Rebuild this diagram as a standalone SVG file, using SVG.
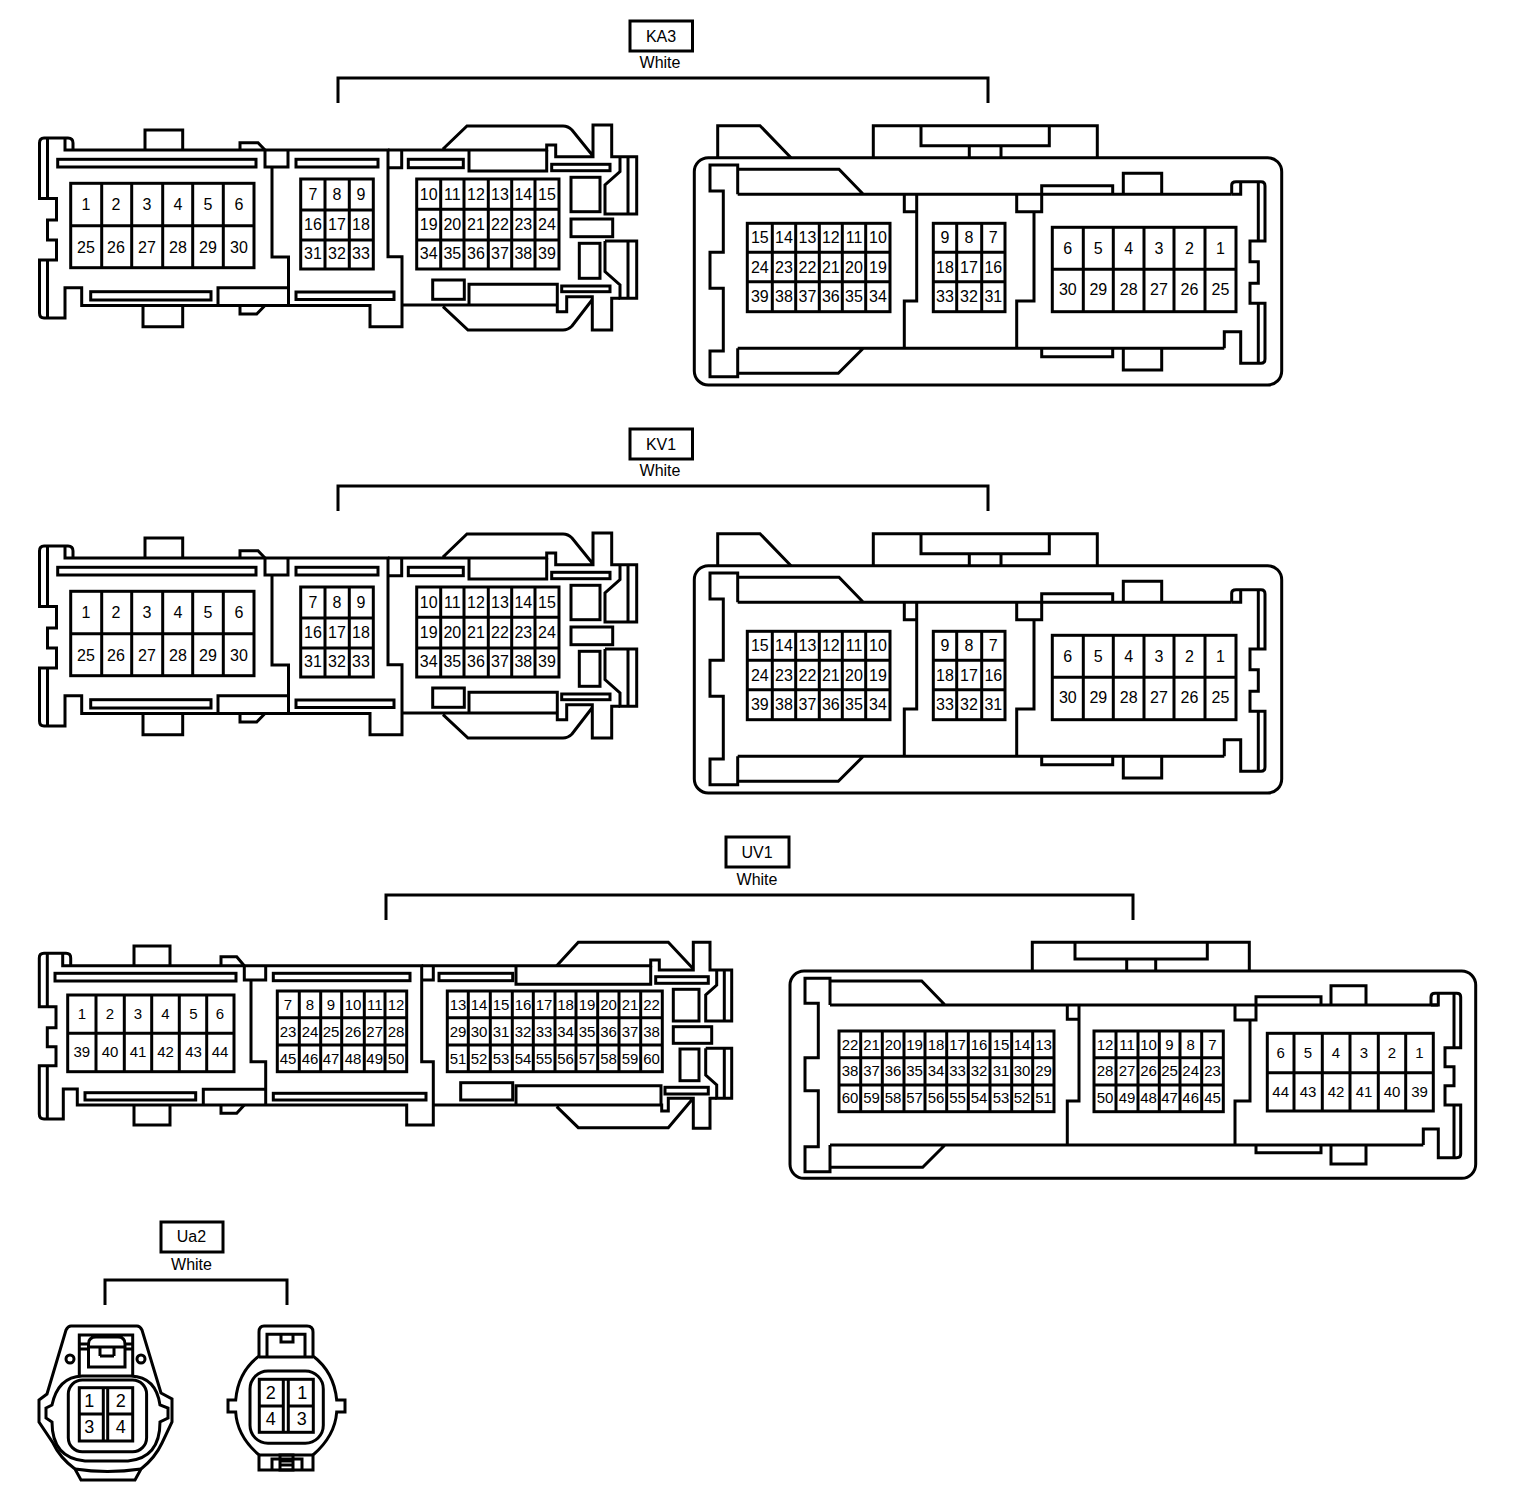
<svg xmlns="http://www.w3.org/2000/svg" width="1520" height="1502" viewBox="0 0 1520 1502">
<style>
.l{fill:none;stroke:#000;stroke-width:3;stroke-linejoin:miter}
text{font-family:"Liberation Sans",Arial,sans-serif;font-size:16px;fill:#000;text-anchor:middle}
.s text{font-size:15px}
.p text{font-size:18px}
</style>
<defs>
<g id="ka-left-shape" class="l">
<path d="M73 150V143Q73 138 68 138H44Q39.500 138 39.500 143V198.500H56.500V220H47.500V240H56.500V260H39.500V313Q39.500 318 44 318H65V287.700H81.700V305.500H370V326.700H402V256.700H388V150H65V138M47.500 138V198.500M47.500 260V318"/>
<path d="M145 150V130H182.700V150M240 150V142.700H258L265 150M143 305.500V326.700H182.700V305.500M240 305.500V314H256.700L265 305.500"/>
<path d="M265 150V167H288V150M272 167V257H288.500V305.500M218 305.500V287.700H288.500"/>
<rect x="57.700" y="159.300" width="198.300" height="7.700"/><rect x="90.700" y="291.700" width="120.300" height="8.300"/>
<rect x="296" y="159.300" width="82" height="7.700"/><rect x="296" y="292" width="98" height="7.500"/>
<rect x="70.700" y="183.300" width="183.300" height="84.400"/><path d="M70.700 225.700H254M101.700 183.300V267.700M131.700 183.300V267.700M162.700 183.300V267.700M192.700 183.300V267.700M223.300 183.300V267.700"/>
<rect x="300.700" y="179" width="72.600" height="90"/><path d="M300.700 210H373.300M300.700 240H373.300M325 179V269M349.300 179V269"/>
<rect x="416.700" y="179" width="142.300" height="90"/><path d="M416.700 209.300H559M416.700 240H559M440.700 179V269M464 179V269M488.300 179V269M511.700 179V269M535 179V269"/>
<path d="M388 150H546.700V145H555.700V156.700H593V125H611.700V156.700H636.700V214H605V185L620 171.700V156.700M628 156.700V214M401.700 150V167.700H388M443 149L467 126H563Q568 126 572 130L593 156M605 241H636.700V298.300H620V285L605 271.700V241M628 241V298.300"/>
<rect x="408.300" y="159.300" width="55" height="8.400"/><path d="M469 150V171H546.700V150"/><rect x="551.700" y="164.300" width="58.300" height="6.400"/>
<rect x="571" y="177.300" width="29" height="34.400"/><rect x="571" y="219" width="41.700" height="17.700"/><rect x="579.300" y="243.300" width="20.700" height="35"/>
<rect x="432.700" y="280" width="31.600" height="19.300"/><path d="M469 305V284.300H557.300V311.700H566.700V296.700H592.300V330H611.700V298.300H620"/><rect x="561.700" y="286" width="48.300" height="5.700"/>
<path d="M402 305H557.300M443 306.700L468 330H563Q568 330 572 326L592 300"/>
</g>
<g id="ka-right-shape" class="l">
<rect x="694.300" y="157.700" width="587.400" height="227.300" rx="14"/>
<path d="M717.700 157.700V125.700H760L791 157.700M873.300 157.700V125.700H1097.300V157.700M921 125.700V145.700H1049.300V125.700M969.300 145.700V157.700M1001 145.700V157.700"/>
<path d="M737.700 194.300V165H710V191H723.300V252.300H710V288.300H723.300V351H710V376.700H737.700V348.300M737.700 169.300H839L863.300 194.300M737.700 373.300H838.300L863.300 348.300M737.700 194.300H1231.700M737.700 348.300H1224.300"/>
<path d="M904.300 194.300V211.700H916.700M916.700 194.300V301H904.300V348.300M1034 211.700V301H1016.700V348.300M1016.700 194.300V211.700H1041.700V185.700H1112.700V194.300M1123.300 194.300V173.300H1161.700V194.300M1041.700 348.300V356.700H1112.700V348.300M1123.300 348.300V370H1161.700V348.300"/>
<path d="M1231.700 194.300V185Q1231.700 181.700 1236 181.700H1261Q1265 181.700 1265 186V241H1250V261.700H1258.300V283.300H1250V303.300H1265V359Q1265 363.300 1261 363.300H1240.700V331.700H1224.300V348.300M1240.700 181.700V194.300H1231.700M1258.300 181.700V241M1258.300 303.300V363.300"/>
<rect x="747.300" y="223.300" width="142.700" height="88.400"/><path d="M747.300 252.300H890M747.300 281.700H890M772.300 223.300V311.700M795.700 223.300V311.700M819.300 223.300V311.700M842.300 223.300V311.700M865.700 223.300V311.700"/>
<rect x="933.300" y="223.300" width="71.700" height="88.400"/><path d="M933.300 252.300H1005M933.300 281.700H1005M956.700 223.300V311.700M981.700 223.300V311.700"/>
<rect x="1052.300" y="227.300" width="183.700" height="84.400"/><path d="M1052.300 269.300H1236M1083.300 227.300V311.700M1113.300 227.300V311.700M1144 227.300V311.700M1174 227.300V311.700M1205 227.300V311.700"/>
</g>
</defs>

<g id="connectors" class="l">
<path d="M338 103V78H988V103"/>
<path d="M338 511V486H988V511"/>
<path d="M386 920V895H1133V920"/>
<path d="M105 1305V1280H287V1305"/>
</g>

<g id="label-KA3"><rect class="l" x="630" y="21" width="62.500" height="30"/><text x="661" y="42">KA3</text><text x="660" y="68">White</text></g>
<g id="label-KV1"><rect class="l" x="630" y="429" width="62.500" height="30"/><text x="661" y="450">KV1</text><text x="660" y="476">White</text></g>
<g id="label-UV1"><rect class="l" x="726" y="837" width="63" height="30"/><text x="757" y="858">UV1</text><text x="757" y="885">White</text></g>
<g id="label-Ua2"><rect class="l" x="161" y="1222" width="62" height="30"/><text x="191.500" y="1242">Ua2</text><text x="191.500" y="1270">White</text></g>

<g id="KA3-left"><use href="#ka-left-shape"/>
<text x="86" y="210">1</text><text x="116" y="210">2</text><text x="147" y="210">3</text><text x="178" y="210">4</text><text x="208" y="210">5</text><text x="239" y="210">6</text>
<text x="86" y="252.500">25</text><text x="116" y="252.500">26</text><text x="147" y="252.500">27</text><text x="178" y="252.500">28</text><text x="208" y="252.500">29</text><text x="239" y="252.500">30</text>
<text x="313" y="200">7</text><text x="337" y="200">8</text><text x="361" y="200">9</text>
<text x="313" y="229.500">16</text><text x="337" y="229.500">17</text><text x="361" y="229.500">18</text>
<text x="313" y="258.500">31</text><text x="337" y="258.500">32</text><text x="361" y="258.500">33</text>
<text x="428.700" y="200">10</text><text x="452.300" y="200">11</text><text x="476" y="200">12</text><text x="500" y="200">13</text><text x="523.300" y="200">14</text><text x="547" y="200">15</text>
<text x="428.700" y="229.500">19</text><text x="452.300" y="229.500">20</text><text x="476" y="229.500">21</text><text x="500" y="229.500">22</text><text x="523.300" y="229.500">23</text><text x="547" y="229.500">24</text>
<text x="428.700" y="258.500">34</text><text x="452.300" y="258.500">35</text><text x="476" y="258.500">36</text><text x="500" y="258.500">37</text><text x="523.300" y="258.500">38</text><text x="547" y="258.500">39</text>
</g>
<g id="KA3-right"><use href="#ka-right-shape"/>
<text x="759.800" y="243">15</text><text x="784" y="243">14</text><text x="807.500" y="243">13</text><text x="830.800" y="243">12</text><text x="854" y="243">11</text><text x="878" y="243">10</text>
<text x="759.800" y="272.500">24</text><text x="784" y="272.500">23</text><text x="807.500" y="272.500">22</text><text x="830.800" y="272.500">21</text><text x="854" y="272.500">20</text><text x="878" y="272.500">19</text>
<text x="759.800" y="302">39</text><text x="784" y="302">38</text><text x="807.500" y="302">37</text><text x="830.800" y="302">36</text><text x="854" y="302">35</text><text x="878" y="302">34</text>
<text x="945" y="243">9</text><text x="969" y="243">8</text><text x="993.300" y="243">7</text>
<text x="945" y="272.500">18</text><text x="969" y="272.500">17</text><text x="993.300" y="272.500">16</text>
<text x="945" y="302">33</text><text x="969" y="302">32</text><text x="993.300" y="302">31</text>
<text x="1067.800" y="253.500">6</text><text x="1098.300" y="253.500">5</text><text x="1128.700" y="253.500">4</text><text x="1159" y="253.500">3</text><text x="1189.500" y="253.500">2</text><text x="1220.500" y="253.500">1</text>
<text x="1067.800" y="295">30</text><text x="1098.300" y="295">29</text><text x="1128.700" y="295">28</text><text x="1159" y="295">27</text><text x="1189.500" y="295">26</text><text x="1220.500" y="295">25</text>
</g>

<g id="KV1-left"><use href="#ka-left-shape" y="408"/>
<text x="86" y="618">1</text><text x="116" y="618">2</text><text x="147" y="618">3</text><text x="178" y="618">4</text><text x="208" y="618">5</text><text x="239" y="618">6</text>
<text x="86" y="660.500">25</text><text x="116" y="660.500">26</text><text x="147" y="660.500">27</text><text x="178" y="660.500">28</text><text x="208" y="660.500">29</text><text x="239" y="660.500">30</text>
<text x="313" y="608">7</text><text x="337" y="608">8</text><text x="361" y="608">9</text>
<text x="313" y="637.500">16</text><text x="337" y="637.500">17</text><text x="361" y="637.500">18</text>
<text x="313" y="666.500">31</text><text x="337" y="666.500">32</text><text x="361" y="666.500">33</text>
<text x="428.700" y="608">10</text><text x="452.300" y="608">11</text><text x="476" y="608">12</text><text x="500" y="608">13</text><text x="523.300" y="608">14</text><text x="547" y="608">15</text>
<text x="428.700" y="637.500">19</text><text x="452.300" y="637.500">20</text><text x="476" y="637.500">21</text><text x="500" y="637.500">22</text><text x="523.300" y="637.500">23</text><text x="547" y="637.500">24</text>
<text x="428.700" y="666.500">34</text><text x="452.300" y="666.500">35</text><text x="476" y="666.500">36</text><text x="500" y="666.500">37</text><text x="523.300" y="666.500">38</text><text x="547" y="666.500">39</text>
</g>
<g id="KV1-right"><use href="#ka-right-shape" y="408"/>
<text x="759.800" y="651">15</text><text x="784" y="651">14</text><text x="807.500" y="651">13</text><text x="830.800" y="651">12</text><text x="854" y="651">11</text><text x="878" y="651">10</text>
<text x="759.800" y="680.500">24</text><text x="784" y="680.500">23</text><text x="807.500" y="680.500">22</text><text x="830.800" y="680.500">21</text><text x="854" y="680.500">20</text><text x="878" y="680.500">19</text>
<text x="759.800" y="710">39</text><text x="784" y="710">38</text><text x="807.500" y="710">37</text><text x="830.800" y="710">36</text><text x="854" y="710">35</text><text x="878" y="710">34</text>
<text x="945" y="651">9</text><text x="969" y="651">8</text><text x="993.300" y="651">7</text>
<text x="945" y="680.500">18</text><text x="969" y="680.500">17</text><text x="993.300" y="680.500">16</text>
<text x="945" y="710">33</text><text x="969" y="710">32</text><text x="993.300" y="710">31</text>
<text x="1067.800" y="661.500">6</text><text x="1098.300" y="661.500">5</text><text x="1128.700" y="661.500">4</text><text x="1159" y="661.500">3</text><text x="1189.500" y="661.500">2</text><text x="1220.500" y="661.500">1</text>
<text x="1067.800" y="703">30</text><text x="1098.300" y="703">29</text><text x="1128.700" y="703">28</text><text x="1159" y="703">27</text><text x="1189.500" y="703">26</text><text x="1220.500" y="703">25</text>
</g>

<g id="UV1-left" class="s">
<g class="l">
<path d="M70.700 965.700V958Q70.700 953.300 66 953.300H44Q39.300 953.300 39.300 958V1006.700H56V1027.700H47.300V1046.700H56V1065.700H39.300V1114Q39.300 1119 44 1119H63.300V1089H77.300V1105H406.700V1125H433.300V1061.700H421.700V965.700H62.700V953.300M47.300 953.300V1006.700M47.300 1065.700V1119"/>
<path d="M134 965.700V946H170V965.700M221 965.700V956.700H236.700L244.300 965.700M134 1105V1125H170V1105M221 1105V1113.300H236.700L244.300 1105"/>
<path d="M244.300 965.700V980H265.700V965.700M251 980V1061.700H265.700V1105M203.300 1105V1089.300H265.700"/>
<rect x="55" y="973.300" width="181" height="7.700"/><rect x="85" y="1092.700" width="110.700" height="7.300"/>
<rect x="273.300" y="973.300" width="136.700" height="7.400"/><rect x="273.300" y="1093.300" width="152.700" height="6.700"/>
<rect x="67.700" y="995" width="166.300" height="76.700"/><path d="M67.700 1033.300H234M96 995V1071.700M124.300 995V1071.700M151.700 995V1071.700M179.300 995V1071.700M206.700 995V1071.700"/>
<rect x="277.300" y="991" width="129.400" height="80.700"/><path d="M277.300 1017.700H406.700M277.300 1045H406.700M299.300 991V1071.700M320.700 991V1071.700M341.700 991V1071.700M364.300 991V1071.700M385 991V1071.700"/>
<rect x="447.300" y="991" width="215" height="80.700"/><path d="M447.300 1017.700H662.300M447.300 1045H662.300M468.300 991V1071.700M490.300 991V1071.700M512.300 991V1071.700M533.300 991V1071.700M555 991V1071.700M576 991V1071.700M597.700 991V1071.700M619 991V1071.700M640.700 991V1071.700"/>
<path d="M433.300 965.700V980H421.700M421.700 965.700H650.700V960H659.300V970H693.300V942.300H710V970H731.700V1021H705.700V995L716.700 985V970M724.300 970V1021"/>
<path d="M556.700 965.700L578.300 942.300H668.300L692.700 968.300M516 965.700V984.300H650.700V965.700"/>
<rect x="439" y="973.300" width="73.700" height="7.400"/><rect x="655.700" y="976.700" width="52.600" height="6.600"/>
<rect x="673.300" y="989.300" width="25.700" height="31.700"/><rect x="673.300" y="1026.700" width="38.400" height="16.600"/><rect x="680" y="1049" width="19" height="31.700"/>
<path d="M705.700 1048.300H731.700V1098.300H716.700V1085L705.700 1075V1048.300M724.300 1048.300V1098.300"/>
<rect x="665" y="1087.300" width="43.300" height="6.700"/><rect x="460.700" y="1082.700" width="52" height="17.300"/>
<path d="M433.300 1105H661.700V1111H668.300V1098.300H693.300V1128.300H710V1098.300H716.700M516 1105V1085.700H661V1105M556.700 1106.700L578.300 1127.700H668.300L691.700 1100"/>
</g>
<text x="81.800" y="1019">1</text><text x="110" y="1019">2</text><text x="138" y="1019">3</text><text x="165.500" y="1019">4</text><text x="193.500" y="1019">5</text><text x="220" y="1019">6</text>
<text x="81.800" y="1057">39</text><text x="110" y="1057">40</text><text x="138" y="1057">41</text><text x="165.500" y="1057">42</text><text x="193.500" y="1057">43</text><text x="220" y="1057">44</text>
<text x="288" y="1009.500">7</text><text x="310" y="1009.500">8</text><text x="331" y="1009.500">9</text><text x="353" y="1009.500">10</text><text x="374.700" y="1009.500">11</text><text x="396" y="1009.500">12</text>
<text x="288" y="1036.500">23</text><text x="310" y="1036.500">24</text><text x="331" y="1036.500">25</text><text x="353" y="1036.500">26</text><text x="374.700" y="1036.500">27</text><text x="396" y="1036.500">28</text>
<text x="288" y="1064">45</text><text x="310" y="1064">46</text><text x="331" y="1064">47</text><text x="353" y="1064">48</text><text x="374.700" y="1064">49</text><text x="396" y="1064">50</text>
<text x="458" y="1009.500">13</text><text x="479" y="1009.500">14</text><text x="501" y="1009.500">15</text><text x="523" y="1009.500">16</text><text x="544" y="1009.500">17</text><text x="565.500" y="1009.500">18</text><text x="587" y="1009.500">19</text><text x="608.500" y="1009.500">20</text><text x="630" y="1009.500">21</text><text x="651.500" y="1009.500">22</text>
<text x="458" y="1036.500">29</text><text x="479" y="1036.500">30</text><text x="501" y="1036.500">31</text><text x="523" y="1036.500">32</text><text x="544" y="1036.500">33</text><text x="565.500" y="1036.500">34</text><text x="587" y="1036.500">35</text><text x="608.500" y="1036.500">36</text><text x="630" y="1036.500">37</text><text x="651.500" y="1036.500">38</text>
<text x="458" y="1064">51</text><text x="479" y="1064">52</text><text x="501" y="1064">53</text><text x="523" y="1064">54</text><text x="544" y="1064">55</text><text x="565.500" y="1064">56</text><text x="587" y="1064">57</text><text x="608.500" y="1064">58</text><text x="630" y="1064">59</text><text x="651.500" y="1064">60</text>
</g>

<g id="UV1-right" class="s">
<g class="l">
<rect x="790" y="971" width="685.700" height="207.300" rx="14"/>
<path d="M1032.300 971V942.300H1249.300V971M1075 942.300V959H1207.300V942.300M1126.700 959V971M1155.700 959V971"/>
<path d="M830 1005V978.300H805V1003.300H818.300V1057.700H805V1090.700H818.300V1146.700H805V1171.700H830V1145M830 981H921.700L945 1005M830 1167.300H922.700L945 1145M830 1005H1438.300M830 1145H1423.300"/>
<path d="M1067.300 1005V1019.300H1079M1079 1005V1101H1067.300V1145M1250 1020V1101H1235V1145M1235 1005V1020H1256V996.700H1321V1005M1331 1005V985.700H1366V1005M1256 1145V1152.700H1321V1145M1331 1145V1164H1366V1145"/>
<path d="M1431 1005V997Q1431 993.300 1435 993.300H1456.700Q1460.700 993.300 1460.700 997V1047.700H1445V1066.700H1454V1085.700H1445V1105H1460.700V1154Q1460.700 1157.700 1456.700 1157.700H1438.300V1129H1423.300V1145M1438.300 993.300V1005H1431M1454 993.300V1047.700M1454 1105V1157.700"/>
<rect x="839" y="1031" width="215" height="80.700"/><path d="M839 1057.700H1054M839 1085H1054M860.700 1031V1111.700M882.300 1031V1111.700M904 1031V1111.700M925 1031V1111.700M946.700 1031V1111.700M968.300 1031V1111.700M990 1031V1111.700M1011.700 1031V1111.700M1032.700 1031V1111.700"/>
<rect x="1094" y="1031" width="129.300" height="80.700"/><path d="M1094 1057.700H1223.300M1094 1085H1223.300M1116 1031V1111.700M1138 1031V1111.700M1159.300 1031V1111.700M1180 1031V1111.700M1201.700 1031V1111.700"/>
<rect x="1267.300" y="1033.300" width="166" height="77.700"/><path d="M1267.300 1072.700H1433.300M1294 1033.300V1111M1322.300 1033.300V1111M1350 1033.300V1111M1378.300 1033.300V1111M1405.700 1033.300V1111"/>
</g>
<text x="850" y="1049.500">22</text><text x="871.500" y="1049.500">21</text><text x="893" y="1049.500">20</text><text x="914.500" y="1049.500">19</text><text x="936" y="1049.500">18</text><text x="957.500" y="1049.500">17</text><text x="979" y="1049.500">16</text><text x="1001" y="1049.500">15</text><text x="1022" y="1049.500">14</text><text x="1043.500" y="1049.500">13</text>
<text x="850" y="1076">38</text><text x="871.500" y="1076">37</text><text x="893" y="1076">36</text><text x="914.500" y="1076">35</text><text x="936" y="1076">34</text><text x="957.500" y="1076">33</text><text x="979" y="1076">32</text><text x="1001" y="1076">31</text><text x="1022" y="1076">30</text><text x="1043.500" y="1076">29</text>
<text x="850" y="1103">60</text><text x="871.500" y="1103">59</text><text x="893" y="1103">58</text><text x="914.500" y="1103">57</text><text x="936" y="1103">56</text><text x="957.500" y="1103">55</text><text x="979" y="1103">54</text><text x="1001" y="1103">53</text><text x="1022" y="1103">52</text><text x="1043.500" y="1103">51</text>
<text x="1105" y="1049.500">12</text><text x="1127" y="1049.500">11</text><text x="1148.500" y="1049.500">10</text><text x="1169.500" y="1049.500">9</text><text x="1190.700" y="1049.500">8</text><text x="1212.500" y="1049.500">7</text>
<text x="1105" y="1076">28</text><text x="1127" y="1076">27</text><text x="1148.500" y="1076">26</text><text x="1169.500" y="1076">25</text><text x="1190.700" y="1076">24</text><text x="1212.500" y="1076">23</text>
<text x="1105" y="1103">50</text><text x="1127" y="1103">49</text><text x="1148.500" y="1103">48</text><text x="1169.500" y="1103">47</text><text x="1190.700" y="1103">46</text><text x="1212.500" y="1103">45</text>
<text x="1280.700" y="1058">6</text><text x="1308" y="1058">5</text><text x="1336" y="1058">4</text><text x="1364" y="1058">3</text><text x="1392" y="1058">2</text><text x="1419.500" y="1058">1</text>
<text x="1280.700" y="1096.500">44</text><text x="1308" y="1096.500">43</text><text x="1336" y="1096.500">42</text><text x="1364" y="1096.500">41</text><text x="1392" y="1096.500">40</text><text x="1419.500" y="1096.500">39</text>
</g>

<g id="Ua2-left" class="p">
<g class="l">
<path d="M71 1326H137Q140 1326 142 1330L161 1393L172 1399V1422L162 1443Q155 1458 141 1469L135 1480H81L75 1469Q60 1458 53 1443L39 1422V1400L47 1394L66 1330Q68 1326 71 1326Z"/>
<path d="M46 1408L52 1405Q58 1377 82 1376H131Q156 1377 160 1405L168 1408V1418L160 1422Q160 1458 128 1461H85Q52 1458 52 1422L46 1418Z"/>
<rect x="68.300" y="1380" width="78.300" height="71.700" rx="14"/>
<rect x="79.300" y="1387.700" width="53.400" height="53.300"/>
<path d="M79.300 1414H103.300M107.700 1414H132.700M103.300 1387.700V1441M107.700 1387.700V1441"/>
<path d="M79.300 1376V1335H132.700V1376M88.500 1367V1344Q88.500 1337 96 1337H118Q125 1337 125 1344V1367H88.500ZM79.300 1344H88.500M79.300 1349H88.500M125 1344H132.700M125 1349H132.700M88.500 1347H125M100 1356H114M100 1347V1356M114 1347V1356"/>
<path d="M75 1469Q107 1474 141 1469"/>
<circle cx="70" cy="1359" r="4"/><circle cx="141" cy="1359" r="4"/>
</g>
<text x="89.300" y="1406.500">1</text><text x="120.700" y="1406.500">2</text><text x="89.300" y="1432.500">3</text><text x="120.700" y="1432.500">4</text>
</g>

<g id="Ua2-right" class="p">
<g class="l">
<path d="M264 1326H307Q313 1326 313 1332V1356Q334 1372 336.700 1400H345V1412H336.700Q335 1436 313 1455V1470H259V1455Q237 1436 235.700 1412H228V1400H235.700Q238 1372 259 1356V1332Q259 1326 264 1326Z"/>
<path d="M267 1357V1334.300H305V1357M281 1334.300V1342H293V1334.300M259 1357H313"/>
<rect x="250" y="1371" width="73.300" height="72.300" rx="18"/>
<path d="M259 1455H313"/>
<rect x="259.300" y="1379.300" width="54" height="53"/>
<path d="M259.300 1406H283.300M288.300 1406H313.300M283.300 1379.300V1432.300M288.300 1379.300V1432.300"/>
<path d="M272 1470V1459H302V1470M280 1455H293V1470H280ZM280 1461H293M280 1465H293"/>
</g>
<text x="270.700" y="1398.500">2</text><text x="302.300" y="1398.500">1</text><text x="270.700" y="1424.500">4</text><text x="301.700" y="1424.500">3</text>
</g>
</svg>
